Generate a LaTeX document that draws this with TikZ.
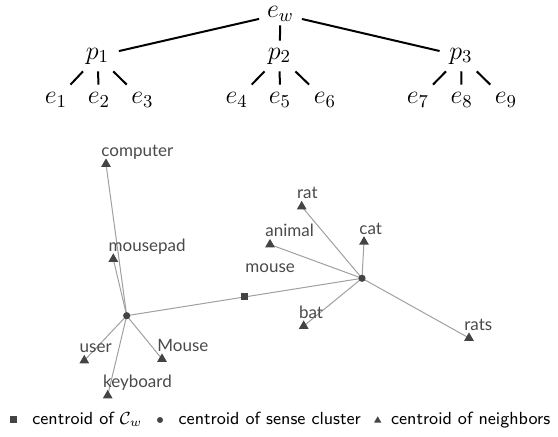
\RequirePackage{fix-cm}
\documentclass[tikz,border=0pt]{standalone}
\usepackage{fontspec}
\newfontfamily\lblfont{Lato}
\usetikzlibrary{shapes.geometric,calc}
\definecolor{mk}{HTML}{444444}
\definecolor{lnc}{HTML}{A0A0A0}
\definecolor{lblc}{HTML}{4A4A4A}
\begin{document}
\begin{tikzpicture}[x=0.5pt,y=-0.5pt,
  tnode/.style={minimum width=21pt, minimum height=15pt, inner sep=0pt, font=\fontsize{13}{15}\selectfont},
  tedge/.style={line width=1pt, black},
  cedge/.style={lnc, line width=0.5pt},
  trim/.style={regular polygon, regular polygon sides=3, fill=mk, inner sep=0pt, minimum size=5.6pt},
  dotm/.style={circle, fill=mk, inner sep=0pt, minimum size=3.6pt},
  sqm/.style={rectangle, fill=mk, inner sep=0pt, minimum size=3.5pt},
  lbl/.style={anchor=base west, inner sep=0pt, text=lblc, font=\lblfont\fontsize{8.5}{10}\selectfont, xshift=-2.5pt, yshift=3.8pt},
  leg/.style={anchor=base west, inner sep=0pt, font=\sffamily\fontsize{8.8}{11}\selectfont}
]
\useasboundingbox (0,0) rectangle (558,437);
% ---- tree ----
\node[tnode, minimum height=11pt] (ew) at (280.5,14) {$e_w$};
\node[tnode] (p1) at (97.5,56) {$p_1$};
\node[tnode] (p2) at (279.5,56) {$p_2$};
\node[tnode] (p3) at (461,56) {$p_3$};
\node[tnode] (e1) at (56,100) {$e_1$};
\node[tnode] (e2) at (99,100) {$e_2$};
\node[tnode] (e3) at (142.5,100) {$e_3$};
\node[tnode] (e4) at (236.7,100) {$e_4$};
\node[tnode] (e5) at (280,100) {$e_5$};
\node[tnode] (e6) at (325,100) {$e_6$};
\node[tnode] (e7) at (418,100) {$e_7$};
\node[tnode] (e8) at (461.7,100) {$e_8$};
\node[tnode] (e9) at (506,100) {$e_9$};
\draw[tedge] (ew) -- (p1);
\draw[tedge] (ew) -- (p2);
\draw[tedge] (ew) -- (p3);
\foreach \e in {e1,e2,e3} \draw[tedge] (p1) -- (\e);
\foreach \e in {e4,e5,e6} \draw[tedge] (p2) -- (\e);
\foreach \e in {e7,e8,e9} \draw[tedge] (p3) -- (\e);
% ---- scatter ----
\coordinate (c1) at (126.7,315.7);
\coordinate (c2) at (362,278.3);
\coordinate (sq) at (244.3,297);
\coordinate (tcomputer) at (106,164);
\coordinate (tmousepad) at (113.3,259);
\coordinate (tuser) at (84.3,360.5);
\coordinate (tMouse) at (162,359);
\coordinate (tkeyboard) at (107.7,395.5);
\coordinate (trat) at (301.7,206.5);
\coordinate (tanimal) at (270,244.5);
\coordinate (tcat) at (364,241.8);
\coordinate (tbat) at (303.7,326);
\coordinate (trats) at (469,338);
\foreach \t in {computer,mousepad,user,Mouse,keyboard} \draw[cedge] (c1) -- (t\t);
\foreach \t in {rat,animal,cat,bat,rats} \draw[cedge] (c2) -- (t\t);
\draw[cedge] (c1) -- (sq) -- (c2);
\foreach \t in {computer,mousepad,user,Mouse,keyboard,rat,animal,cat,bat,rats} {
  \node[trim] (m\t) at (t\t) {};
  \node[lbl] (l\t) at (t\t) {\t};
}
\node[dotm] (mc1) at (c1) {};
\node[dotm] (mc2) at (c2) {};
\node[sqm] (msq) at (sq) {};
\node[lbl, xshift=2.5pt, yshift=-3.8pt] (lmouse) at (245,272.5) {mouse};
% ---- legend ----
\node[sqm, minimum size=3.3pt] (lsq) at (13.3,419.5) {};
\node[leg] (leg1) at (32,424.5) {centroid of $\mathcal{C}_w$};
\node[dotm, minimum size=3pt] (lcirc) at (160,420) {};
\node[leg] (leg2) at (178.3,424.5) {centroid of sense cluster};
\node[trim, minimum size=4.2pt] (ltri) at (377.7,420.5) {};
\node[leg] (leg3) at (390.7,424.5) {centroid of neighbors};
\end{tikzpicture}
\end{document}
